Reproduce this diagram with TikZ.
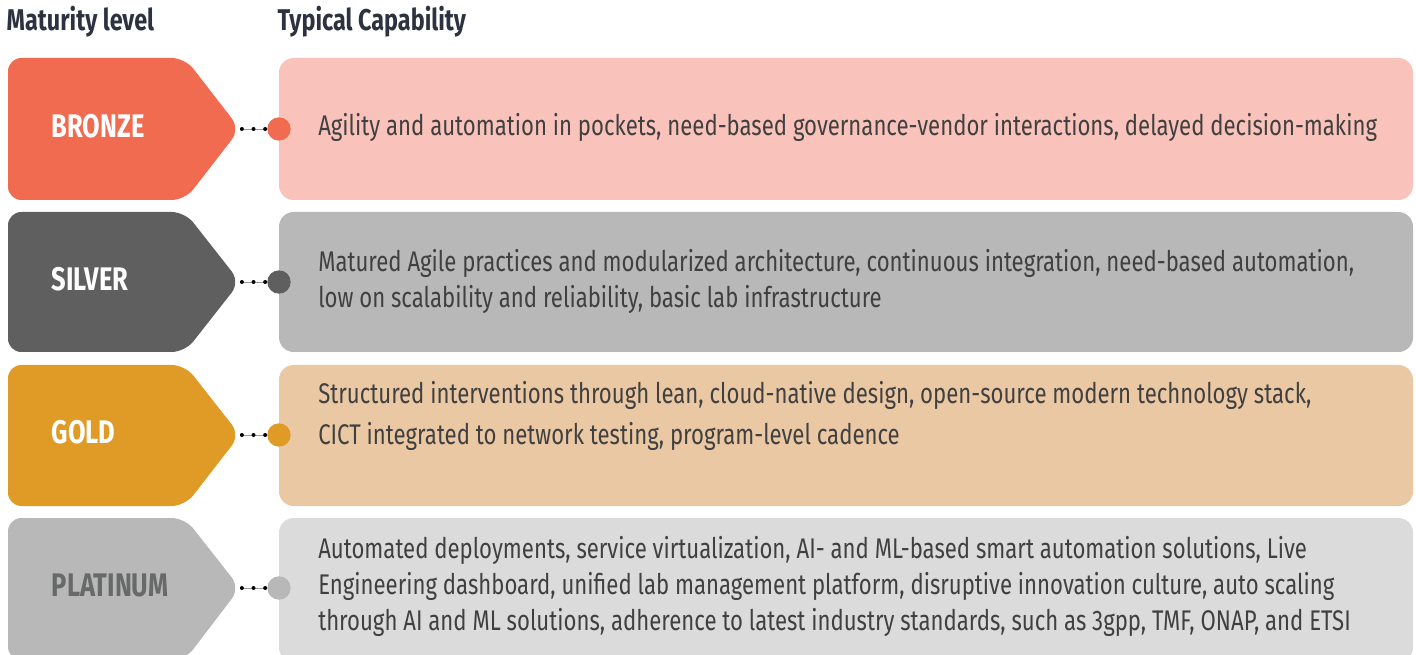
\documentclass[tikz,border=0pt]{standalone}
\usepackage{fontspec}
\setmainfont{Fira Sans}[FakeStretch=0.78]
\usetikzlibrary{positioning}

\definecolor{headC}{HTML}{2D3240}
\definecolor{textC}{HTML}{404040}
\definecolor{lineC}{HTML}{9A9A9A}
\definecolor{bronzeC}{HTML}{F06B4F}
\definecolor{bronzeL}{HTML}{F9C3BB}
\definecolor{silverC}{HTML}{5E5F5E}
\definecolor{silverL}{HTML}{B7B8B7}
\definecolor{goldC}{HTML}{E09B27}
\definecolor{goldL}{HTML}{EBC8A4}
\definecolor{platC}{HTML}{B7B8B7}
\definecolor{platL}{HTML}{DBDBDB}
\definecolor{platT}{HTML}{686969}

\tikzset{
  badge/.style={rounded corners=10pt},
  capbox/.style={rounded corners=11pt},
  heading/.style={anchor=west, text=headC, font=\fontsize{22.5}{26}\selectfont\bfseries},
  levelname/.style={anchor=west, text=white, font=\fontsize{24.5}{28}\selectfont\bfseries},
  captext/.style={anchor=west, align=left, text=textC, inner sep=0pt, font=\fontsize{21.3}{27}\selectfont},
  bigdot/.style={circle, minimum size=17.5pt, inner sep=0pt},
  smalldot/.style={circle, fill=black, minimum size=3pt, inner sep=0pt},
  link/.style={draw=lineC, line width=0.6pt}
}

\begin{document}
\begin{tikzpicture}[x=0.75pt,y=-0.75pt]
\useasboundingbox (0,0) rectangle (1416,655);

% column headings
\node[heading] (hLevel) at (2,22) {Maturity level};
\node[heading] (hCap) at (273,22) {Typical Capability};

% bronze
\fill[bronzeC, badge] (8,58) -- (185,58) -- (240,129) -- (185,200) -- (8,200) -- cycle;
\fill[bronzeL, capbox] (279,58) rectangle (1413,200);
\node[levelname] (lBronze) at (47,126) {BRONZE};
\coordinate (tipB) at (240,129);
\node[bigdot, fill=bronzeC] (dotB) at (279,129) {};
\node[captext] (capB) at (318,127) {Agility and automation in pockets, need-based governance-vendor interactions, delayed decision-making};

% silver
\fill[silverC, badge] (8,212) -- (185,212) -- (240,282) -- (185,352) -- (8,352) -- cycle;
\fill[silverL, capbox] (279,212) rectangle (1413,352);
\node[levelname] (lSilver) at (47,279) {SILVER};
\coordinate (tipS) at (240,282);
\node[bigdot, fill=silverC] (dotS) at (279,282) {};
\node[captext] (capS) at (318,281) {Matured Agile practices and modularized architecture, continuous integration, need-based automation,\\
low on scalability and reliability, basic lab infrastructure};

% gold
\fill[goldC, badge] (8,365) -- (185,365) -- (240,435) -- (185,506) -- (8,506) -- cycle;
\fill[goldL, capbox] (279,365) rectangle (1413,506);
\node[levelname] (lGold) at (47,432) {GOLD};
\coordinate (tipG) at (240,435);
\node[bigdot, fill=goldC] (dotG) at (279,435) {};
\node[captext] (capG) at (318,416) {Structured interventions through lean, cloud-native design, open-source modern technology stack,\\[4pt]
CICT integrated to network testing, program-level cadence};

% platinum
\fill[platC, badge] (8,518) -- (185,518) -- (240,588) -- (185,660) -- (8,660) -- cycle;
\fill[platL, capbox] (279,518) rectangle (1413,662);
\node[levelname, text=platT] (lPlat) at (47,585) {PLATINUM};
\coordinate (tipP) at (240,588);
\node[bigdot, fill=platC] (dotP) at (279,588) {};
\node[captext] (capP) at (318,586) {Automated deployments, service virtualization, AI- and ML-based smart automation solutions, Live\\
Engineering dashboard, unified lab management platform, disruptive innovation culture, auto scaling\\
through AI and ML solutions, adherence to latest industry standards, such as 3gpp, TMF, ONAP, and ETSI};

% dotted links
\foreach \t/\d in {tipB/dotB, tipS/dotS, tipG/dotG, tipP/dotP}
  \draw[link] (\t) -- (\d)
    node[pos=0.07, smalldot] {}
    node[pos=0.5, smalldot] {}
    node[pos=0.93, smalldot] {};
\end{tikzpicture}
\end{document}
